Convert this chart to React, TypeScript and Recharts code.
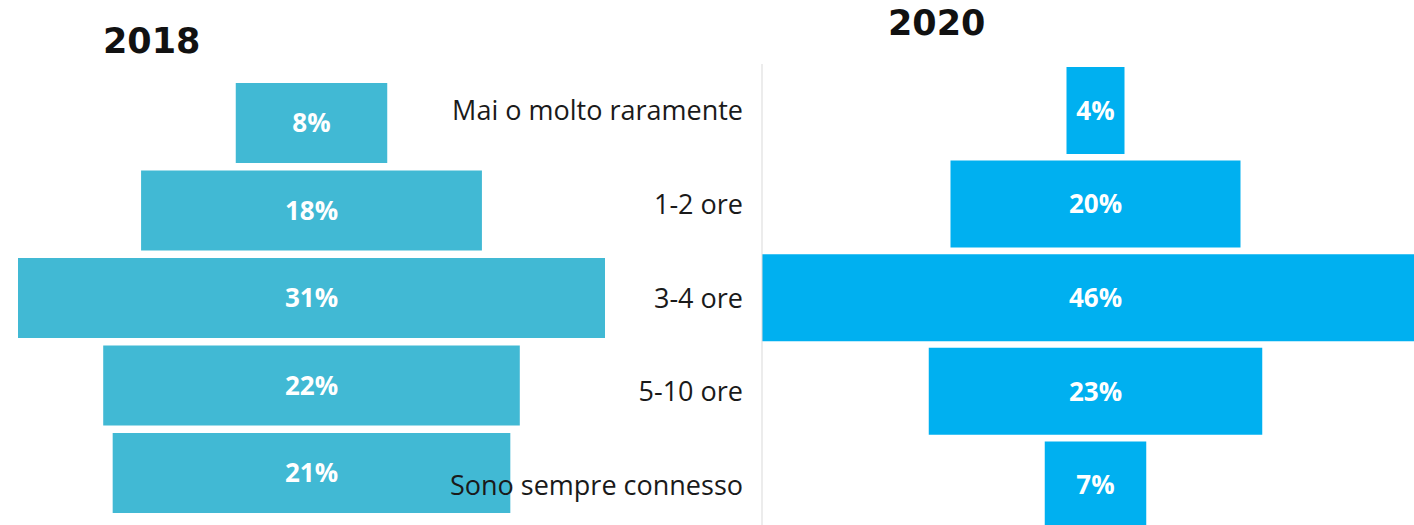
import { Bar, BarChart, LabelList, XAxis, YAxis } from "recharts"

const categories = [
  "Mai o molto raramente",
  "1-2 ore",
  "3-4 ore",
  "5-10 ore",
  "Sono sempre connesso",
]
const values2018 = [8, 18, 31, 22, 21]
const values2020 = [4, 20, 46, 23, 7]

const FONT = "'Open Sans', sans-serif"

function buildRows(values: number[]) {
  const max = Math.max(...values)
  return categories.map((cat, i) => ({
    cat,
    pad: (max - values[i]) / 2,
    value: values[i],
  }))
}

const rows2018 = buildRows(values2018)
const rows2020 = buildRows(values2020)

const pct = (v: unknown) => `${v}%`

const titleStyle = {
  position: "absolute" as const,
  fontFamily: "'DejaVu Sans', sans-serif",
  fontWeight: 700,
  fontSize: 35,
  lineHeight: 1,
  color: "#111",
}

export default function App() {
  return (
    <div
      style={{
        position: "fixed",
        left: 0,
        top: 0,
        width: 1414,
        height: 525,
        overflow: "hidden",
        background: "#fff",
      }}
    >
      <div style={{ position: "absolute", left: 0, top: 0 }}>
        <BarChart
          width={620}
          height={525}
          layout="vertical"
          data={rows2018}
          margin={{ top: 79, right: 15, bottom: 8.5, left: 18 }}
        >
          <XAxis type="number" domain={[0, 31]} hide />
          <YAxis
            type="category"
            dataKey="cat"
            width={0}
            tick={false}
            tickLine={false}
            axisLine={{ stroke: "#d9d9d9" }}
          />
          <Bar dataKey="pad" stackId="a" fill="transparent" barSize={80} isAnimationActive={false} />
          <Bar dataKey="value" stackId="a" fill="#41b9d4" barSize={80} isAnimationActive={false}>
            <LabelList
              dataKey="value"
              position="center"
              formatter={pct}
              fill="#fff"
              style={{ fontFamily: FONT, fontWeight: 700, fontSize: 26 }}
            />
          </Bar>
        </BarChart>
      </div>

      <div style={{ position: "absolute", left: 392, top: 0 }}>
        <BarChart
          width={1037}
          height={532}
          layout="vertical"
          data={rows2020}
          margin={{ top: 64, right: 0, bottom: 0, left: 0 }}
        >
          <XAxis type="number" domain={[0, 46]} hide />
          <YAxis
            type="category"
            dataKey="cat"
            width={370}
            tickLine={false}
            tickSize={6}
            tickMargin={13}
            axisLine={{ stroke: "#d9d9d9" }}
            tick={{ fontFamily: FONT, fontSize: 27, fill: "#1a1a1a" }}
          />
          <Bar dataKey="pad" stackId="a" fill="transparent" barSize={87} isAnimationActive={false} />
          <Bar dataKey="value" stackId="a" fill="#00b0f0" barSize={87} isAnimationActive={false}>
            <LabelList
              dataKey="value"
              position="center"
              formatter={pct}
              fill="#fff"
              style={{ fontFamily: FONT, fontWeight: 700, fontSize: 26 }}
            />
          </Bar>
        </BarChart>
      </div>

      <div style={{ ...titleStyle, left: 103, top: 24 }}>2018</div>
      <div style={{ ...titleStyle, left: 888, top: 6 }}>2020</div>
    </div>
  )
}
